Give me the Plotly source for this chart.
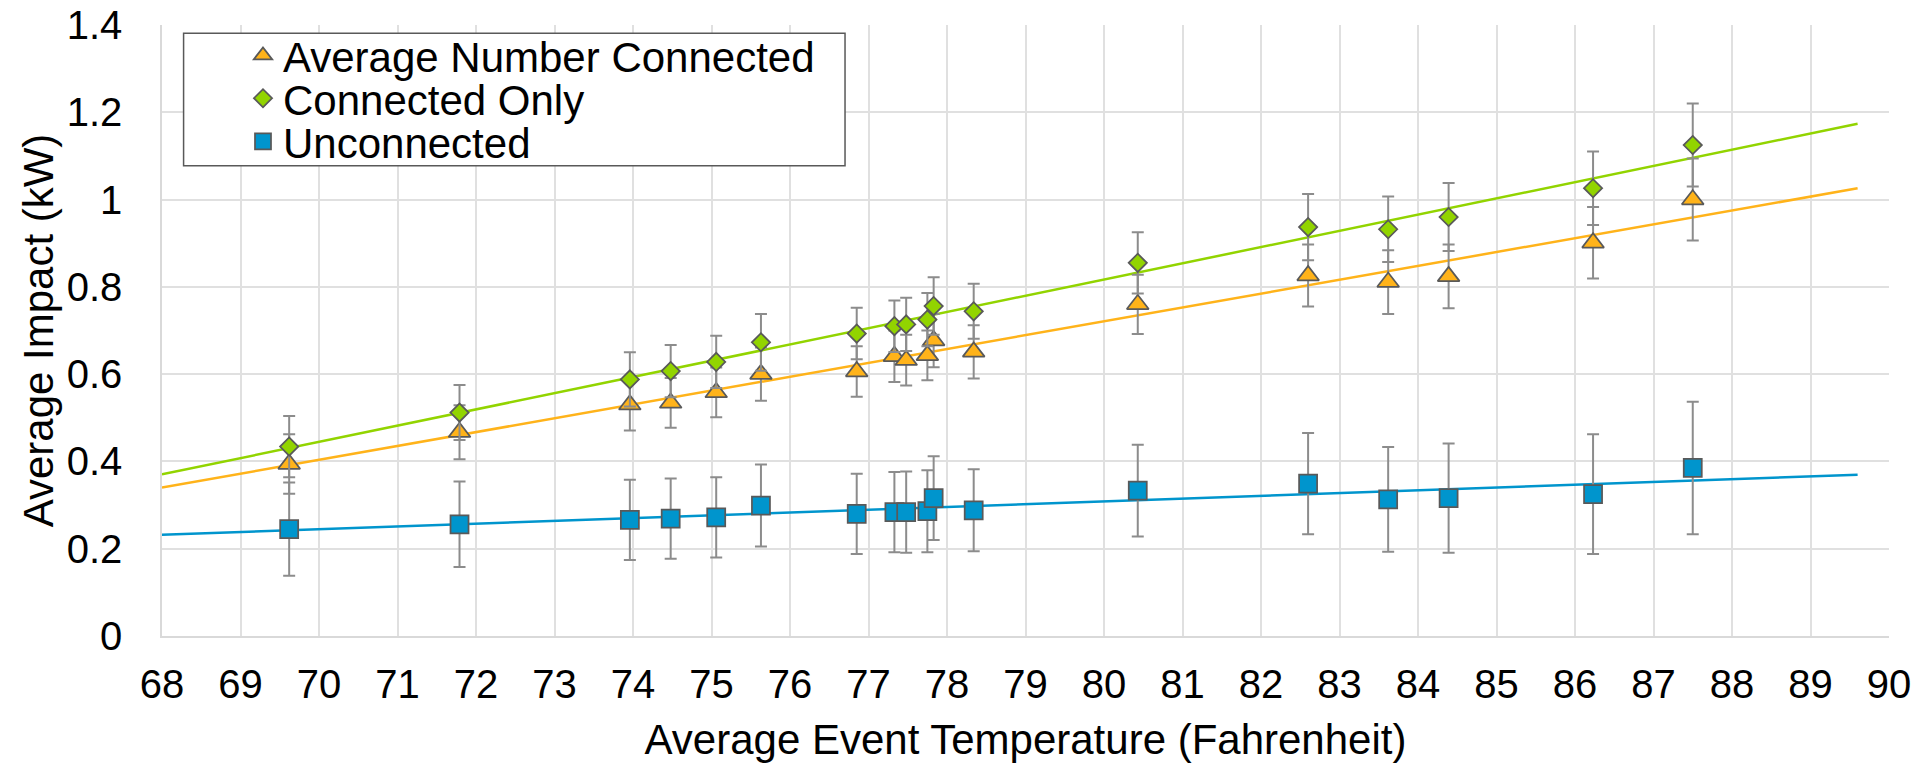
import numpy as np
import plotly.graph_objects as go

# ---- data ----
temperature = [69.62, 71.79, 73.96, 74.48, 75.06, 75.63, 76.85, 77.33, 77.48,
               77.75, 77.83, 78.34, 80.43, 82.60, 83.62, 84.39, 86.23, 87.50]

avg_number_connected = [0.394, 0.467, 0.530, 0.534, 0.558, 0.600, 0.606, 0.641, 0.632,
                        0.643, 0.677, 0.651, 0.760, 0.826, 0.811, 0.824, 0.901, 1.000]
avg_number_err = [0.068, 0.062, 0.059, 0.057, 0.057, 0.061, 0.058, 0.059, 0.058,
                  0.057, 0.061, 0.061, 0.068, 0.071, 0.073, 0.073, 0.082, 0.094]

connected_only = [0.434, 0.512, 0.588, 0.607, 0.628, 0.673, 0.693, 0.710, 0.714,
                  0.725, 0.756, 0.744, 0.855, 0.937, 0.932, 0.960, 1.026, 1.125]
connected_err = [0.070, 0.063, 0.062, 0.060, 0.060, 0.065, 0.059, 0.059, 0.061,
                 0.061, 0.066, 0.063, 0.070, 0.076, 0.075, 0.078, 0.084, 0.095]

unconnected = [0.245, 0.256, 0.266, 0.269, 0.272, 0.299, 0.280, 0.284, 0.284,
               0.286, 0.316, 0.288, 0.333, 0.349, 0.313, 0.316, 0.325, 0.385]
unconnected_err = [0.107, 0.098, 0.092, 0.092, 0.092, 0.094, 0.092, 0.092, 0.093,
                   0.094, 0.096, 0.094, 0.105, 0.116, 0.120, 0.125, 0.137, 0.152]

trend_x_range = [68.0, 89.6]
x_ticks = list(range(68, 91))
y_ticks = [0, 0.2, 0.4, 0.6, 0.8, 1.0, 1.2, 1.4]
y_tick_labels = ["0", "0.2", "0.4", "0.6", "0.8", "1", "1.2", "1.4"]

# ---- styling ----
ORANGE = "#FFB31A"
GREEN = "#92D400"
BLUE = "#0095CD"
OUTLINE = "#595959"
ERR = "#8C8C8C"
FONT = "Liberation Sans, Arial, sans-serif"

series = [
    ("Average Number Connected", avg_number_connected, avg_number_err, ORANGE, "triangle-up", 19, "legend"),
    ("Connected Only", connected_only, connected_err, GREEN, "diamond", 14, "legend2"),
    ("Unconnected", unconnected, unconnected_err, BLUE, "square", 18, "legend3"),
]

fig = go.Figure()
tx = np.array(trend_x_range)
# trendlines (least-squares fit of each series)
for name, vals, err, color, sym, size, lg in series:
    slope, intercept = np.polyfit(temperature, vals, 1)
    fig.add_trace(go.Scatter(
        x=tx, y=slope * tx + intercept, mode="lines",
        line=dict(color=color, width=2.5), showlegend=False, hoverinfo="skip"))

for name, vals, err, color, sym, size, lg in series:
    fig.add_trace(go.Scatter(
        x=temperature, y=vals, mode="markers", name=name, legend=lg,
        marker=dict(symbol=sym, size=size, color=color,
                    line=dict(color=OUTLINE, width=1.75)),
        error_y=dict(type="data", array=err, visible=True,
                     color=ERR, thickness=2, width=6),
    ))

legend_common = dict(
    x=0.0469, xanchor="left", yanchor="middle",
    bgcolor="rgba(0,0,0,0)", borderwidth=0,
    font=dict(family=FONT, size=42, color="black"),
)

fig.update_layout(
    width=1918, height=773,
    margin=dict(l=162, r=29, t=25, b=137),
    plot_bgcolor="white", paper_bgcolor="white",
    font=dict(family=FONT, size=40, color="black"),
    showlegend=True,
    legend=dict(y=0.9500, **legend_common),
    legend2=dict(y=0.8798, **legend_common),
    legend3=dict(y=0.8094, **legend_common),
    shapes=[dict(type="rect", xref="paper", yref="paper",
                 x0=0.0125, x1=0.3955, y0=0.7697, y1=0.9864,
                 fillcolor="white", line=dict(color=OUTLINE, width=1.5),
                 layer="above")],
    xaxis=dict(
        range=[68, 90], tickvals=x_ticks, ticktext=[str(v) for v in x_ticks],
        showgrid=True, gridcolor="#E0E0E0", gridwidth=1.5,
        showline=True, linecolor="#D9D9D9", linewidth=1.5, mirror=False,
        zeroline=False, ticks="",
        tickfont=dict(size=40),
        ticklabelstandoff=12,
        title=dict(text="Average Event Temperature (Fahrenheit)",
                   font=dict(size=42), standoff=20),
        automargin=False,
    ),
    yaxis=dict(
        range=[0, 1.4], tickvals=y_ticks, ticktext=y_tick_labels,
        showgrid=True, gridcolor="#E0E0E0", gridwidth=1.5,
        showline=True, linecolor="#D9D9D9", linewidth=1.5,
        zeroline=False, ticks="",
        tickfont=dict(size=40),
        ticklabelstandoff=30,
        title=dict(text="Average Impact (kW)", font=dict(size=42), standoff=0),
        automargin=False,
    ),
)

fig.write_html(
    "out.html",
    config={"displayModeBar": False},
    post_script="document.body.style.margin='0';document.body.style.overflow='hidden';",
)
